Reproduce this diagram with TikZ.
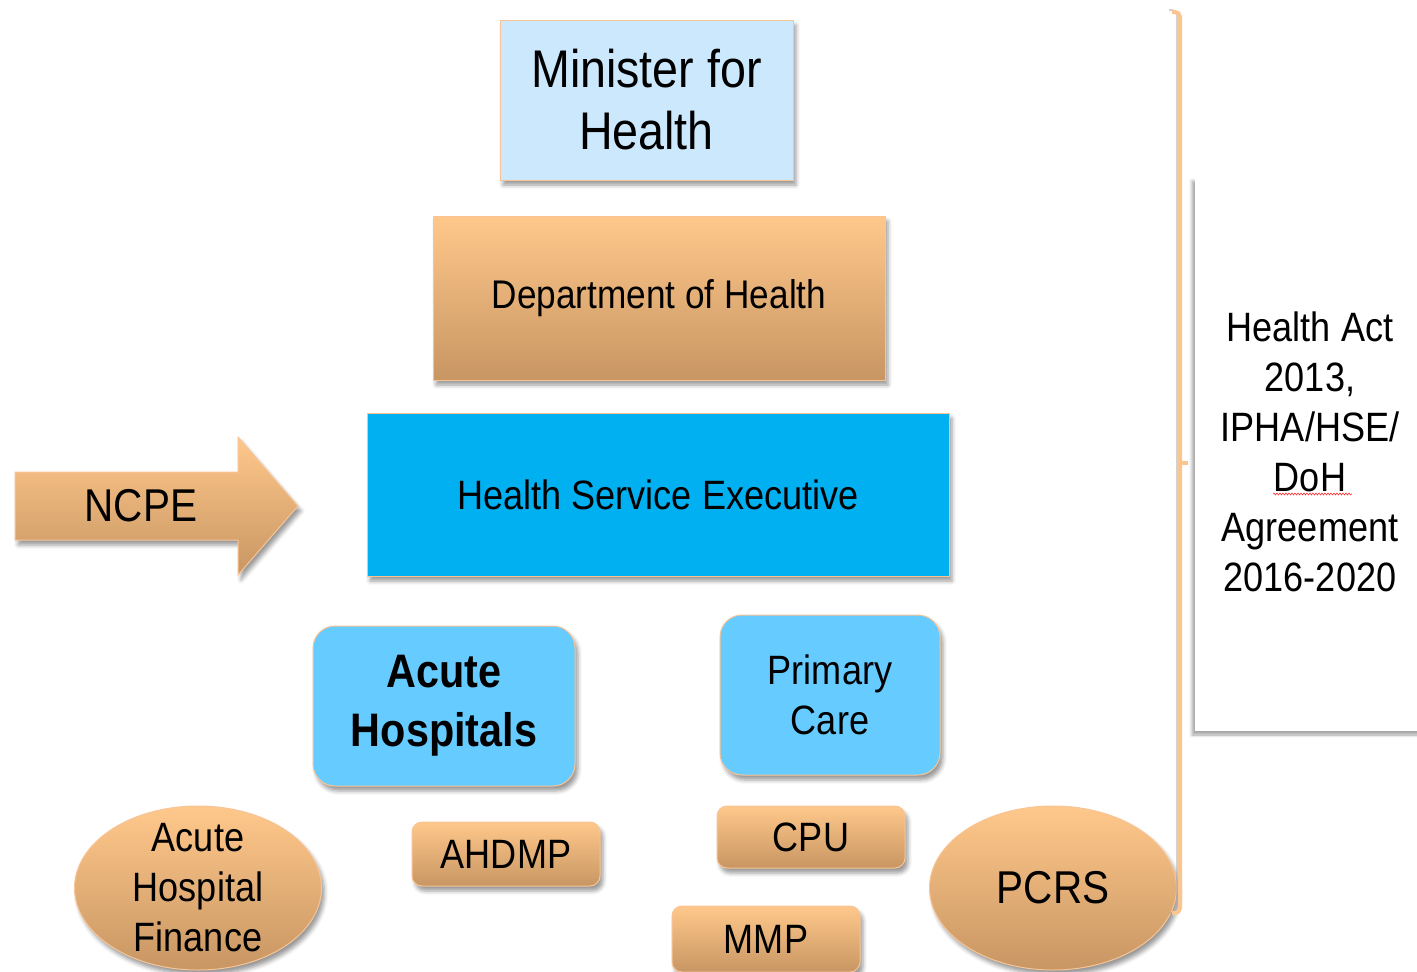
\documentclass[tikz,border=0pt]{standalone}
\usepackage{fontspec}
\usepackage{tikz}
\usetikzlibrary{shapes.geometric,shadows.blur,decorations.pathmorphing}

\newfontfamily\orgfont[FakeStretch=0.88]{Liberation Sans}
\newcommand{\fsz}[2]{\fontsize{#1}{#2}\selectfont}

\definecolor{minblue}{HTML}{CCE8FD}
\definecolor{hseblue}{HTML}{00B0F0}
\definecolor{unitblue}{HTML}{66CCFF}
\definecolor{ortop}{HTML}{FFC88B}
\definecolor{orbot}{HTML}{C89663}
\definecolor{edgeor}{HTML}{F8C496}
\definecolor{braceor}{HTML}{FAC58F}

\begin{document}
\begin{tikzpicture}[x=1pt,y=-1pt,
    base node/.style={draw=edgeor,line width=1pt,inner sep=0pt,align=center,
      font=\orgfont\fsz{41}{50},
      blur shadow={shadow xshift=3pt,shadow yshift=-5pt,shadow blur radius=4pt,shadow opacity=40}},
    orange node/.style={base node,top color=ortop,bottom color=orbot},
    unit node/.style={base node,fill=unitblue,rounded corners=22pt,minimum width=#1,minimum height=160pt},
    tag node/.style={orange node,rounded corners=10pt,minimum width=188pt,minimum height=#1},
    oval node/.style={orange node,ellipse,minimum width=247pt,minimum height=164pt}]

	\useasboundingbox (0,0) rectangle (1417,972);

	% the hierarchy
	\node[base node,fill=minblue,minimum width=293pt,minimum height=160pt,font=\orgfont\fsz{53}{62}]
	  (min) at (646.5,100) {Minister for\\Health};
	\node[orange node,minimum width=452pt,minimum height=164pt,font=\orgfont\fsz{40}{48}]
	  (doh) at (659,298) {Department of Health};
	\node[base node,fill=hseblue,minimum width=582pt,minimum height=163pt]
	  (hse) at (658,494.5) {Health Service Executive};

	% NCPE arrow pointing at the HSE
	\path[orange node] (15,472) -- (238,472) -- (238,437) -- (298,506) -- (238,575) -- (238,540) -- (15,540) -- cycle;
	\node[font=\orgfont\fsz{46}{52}] (ncpe) at (141,506) {NCPE};

	% divisions
	\node[unit node=262pt,font=\orgfont\bfseries\fsz{47}{59}] (acute) at (444,706) {Acute\\Hospitals};
	\node[unit node=220pt] (prim) at (830,695) {Primary\\Care};

	% units
	\node[oval node,inner sep=-22pt] (ahf) at (198,888) {Acute\\Hospital\\Finance};
	\node[tag node=64pt] (ahdmp) at (506,854) {AHDMP};
	\node[tag node=62pt] (cpu) at (811,837) {CPU};
	\node[tag node=66pt] (mmp) at (766,939) {MMP};
	\node[oval node,font=\orgfont\fsz{46}{52}] (pcrs) at (1053,888) {PCRS};

	% brace and legal basis
	\coordinate (brtop) at (1180,12);
	\coordinate (brmid) at (1180,463);
	\coordinate (brbot) at (1180,913);
	\draw[black!35,line width=2pt,rounded corners=5pt,opacity=0.5] ([xshift=-3pt,yshift=2pt]brtop) ++(-8,0) -| ([xshift=-3pt]brbot) -- ++(-8,0);
	\draw[braceor,line width=4pt,rounded corners=5pt] (brtop) ++(-8,0) -| (brbot) -- ++(-8,0);
	\draw[braceor,line width=4pt] (brmid) -- ++(8,0);

	\path[fill=white,blur shadow={shadow xshift=-3pt,shadow yshift=-4pt,shadow blur radius=3pt,shadow opacity=35}]
	  (1195,177) rectangle (1450,731);
	\node[align=center,font=\orgfont\fsz{41}{50}] (act) at (1310,452)
	  {Health Act\\2013,\\IPHA/HSE/\\DoH\\Agreement\\2016-2020};
	\draw[red!80,line width=0.6pt,decorate,decoration={snake,amplitude=1pt,segment length=3pt}]
	  (1273,494) -- (1352,494);

\end{tikzpicture}
\end{document}
